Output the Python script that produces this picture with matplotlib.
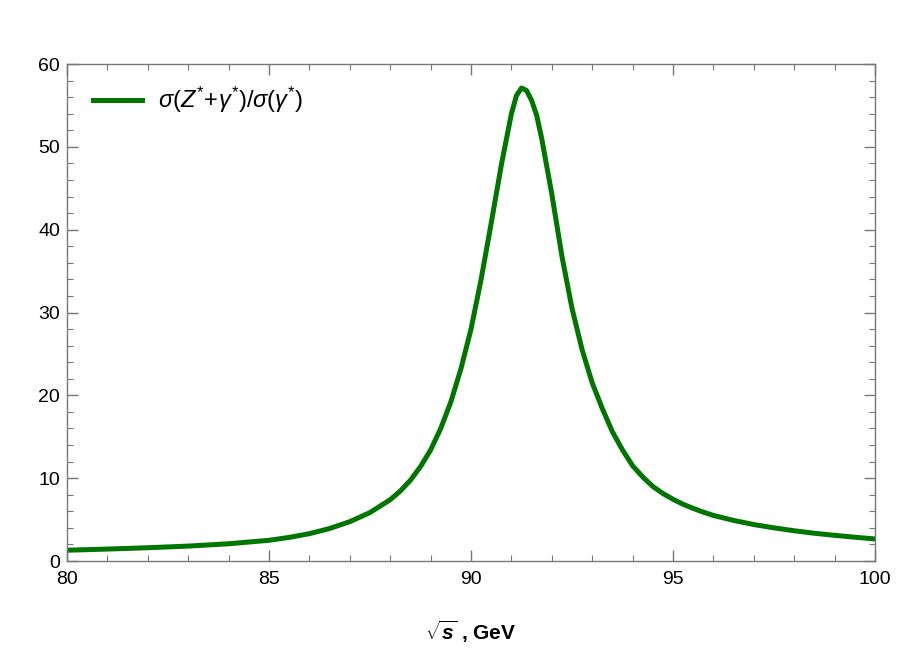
import numpy as np
import matplotlib
matplotlib.use('Agg')
import matplotlib.pyplot as plt
from matplotlib.ticker import MultipleLocator

# fonts: Arial-like look, math in the same family
plt.rcParams['font.family'] = ['Liberation Sans', 'DejaVu Sans']
plt.rcParams['mathtext.fontset'] = 'custom'
plt.rcParams['mathtext.rm'] = 'Liberation Sans'
plt.rcParams['mathtext.it'] = 'Liberation Sans:italic'
plt.rcParams['mathtext.bf'] = 'Liberation Sans:bold'
plt.rcParams['mathtext.bfit'] = 'Liberation Sans:bold:italic'

# values
sqrt_s = [80.0, 81.0, 82.0, 83.0, 84.0, 85.0, 85.5, 86.0, 86.5, 87.0,
          87.5, 88.0, 88.25, 88.5, 88.75, 89.0, 89.25, 89.5, 89.75, 90.0,
          90.25, 90.5, 90.75, 91.0, 91.125, 91.25, 91.375, 91.5, 91.625, 91.75,
          92.0, 92.25, 92.5, 92.75, 93.0, 93.25, 93.5, 93.75, 94.0, 94.25,
          94.5, 94.75, 95.0, 95.25, 95.5, 95.75, 96.0, 96.5, 97.0, 97.5,
          98.0, 98.5, 99.0, 99.5, 100.0]
ratio = [1.30, 1.44, 1.60, 1.80, 2.08, 2.50, 2.85, 3.30, 3.92, 4.75,
         5.85, 7.40, 8.45, 9.75, 11.4, 13.4, 16.0, 19.2, 23.2, 28.0,
         34.0, 40.8, 47.8, 54.0, 56.2, 57.1, 56.8, 55.6, 53.8, 51.0,
         44.3, 36.8, 30.5, 25.5, 21.5, 18.4, 15.6, 13.4, 11.5, 10.15,
         9.0, 8.15, 7.45, 6.85, 6.35, 5.9, 5.5, 4.9, 4.4, 4.0,
         3.65, 3.35, 3.1, 2.87, 2.66]

legend_label = r'$\sigma(Z^{*}\!+\!\gamma^{*})/\sigma(\gamma^{*})$'
x_label = r'$\sqrt{\mathbfit{s}}$ , GeV'

fig = plt.figure(figsize=(9.13, 6.54), dpi=100)
ax = fig.add_axes([0.0734, 0.1422, 0.885, 0.7599])

ax.plot(sqrt_s, ratio, color='#007500', lw=3.6, label=legend_label,
        solid_joinstyle='round')

ax.set_xlim(80, 100)
ax.set_ylim(0, 60)
ax.xaxis.set_major_locator(MultipleLocator(5))
ax.xaxis.set_minor_locator(MultipleLocator(1))
ax.yaxis.set_major_locator(MultipleLocator(10))
ax.yaxis.set_minor_locator(MultipleLocator(2))

frame_col = '#777777'
for sp in ax.spines.values():
    sp.set_color(frame_col)
    sp.set_linewidth(1.0)
ax.tick_params(which='both', direction='in', top=True, right=True,
               color=frame_col, labelsize=14, labelcolor='black')
ax.tick_params(which='major', length=8, width=1.0)
ax.tick_params(which='minor', length=4, width=0.8)
ax.tick_params(axis='x', which='major', pad=7)
ax.tick_params(axis='y', which='major', pad=5)

ax.set_xlabel(x_label, fontsize=15, fontweight='bold', labelpad=22)

ax.legend(loc='center left', bbox_to_anchor=(0.032, 0.9276), frameon=False,
          fontsize=17, handlelength=2.1, handletextpad=0.65,
          borderpad=0, borderaxespad=0)

fig.savefig('out.png', dpi=100)
